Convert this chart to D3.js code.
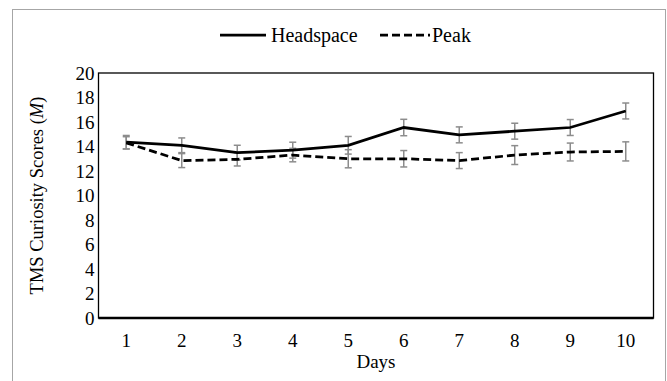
<!DOCTYPE html>
<html>
<head>
<meta charset="utf-8">
<script src="https://cdn.jsdelivr.net/npm/d3@7"></script>
<style>
  body { margin: 0; background: #fff; }
  svg text { font-family: "Liberation Serif", "Times New Roman", Times, serif; fill: #000; }
</style>
</head>
<body>
<svg id="chart"></svg>
<script>
// data
const days = ['1', '2', '3', '4', '5', '6', '7', '8', '9', '10'];
const headspace = [14.35, 14.1, 13.5, 13.7, 14.1, 15.55, 14.95, 15.25, 15.55, 16.9];
const headspaceErr = [0.55, 0.6, 0.6, 0.65, 0.72, 0.67, 0.65, 0.65, 0.65, 0.65];
const peak = [14.3, 12.85, 12.95, 13.3, 13.0, 13.0, 12.85, 13.3, 13.55, 13.6];
const peakErr = [0.5, 0.57, 0.54, 0.55, 0.74, 0.67, 0.65, 0.77, 0.73, 0.78];
const yTicks = [0, 2, 4, 6, 8, 10, 12, 14, 16, 18, 20];

const dim = { width: 667, height: 381 };
const plot = { left: 98.5, top: 73, right: 653.5, bottom: 318 };
const serif = '"Liberation Serif", "Times New Roman", Times, serif';

const svg = d3.select('#chart')
  .attr('width', dim.width)
  .attr('height', dim.height);

// outer chart frame (runs off the bottom of the picture)
svg.append('rect')
  .attr('x', 12.5).attr('y', 9.5)
  .attr('width', 653).attr('height', 400)
  .attr('fill', 'none')
  .attr('stroke', '#a6a6a6')
  .attr('stroke-width', 1);

const x = d3.scaleBand()
  .domain(days)
  .range([plot.left, plot.right]);

const y = d3.scaleLinear()
  .domain([0, 20])
  .range([plot.bottom, plot.top]);

const cx = d => x(d) + x.bandwidth() / 2;

// plot area border
svg.append('rect')
  .attr('x', plot.left).attr('y', plot.top)
  .attr('width', plot.right - plot.left)
  .attr('height', plot.bottom - plot.top)
  .attr('fill', 'none')
  .attr('stroke', '#000')
  .attr('stroke-width', 1.3);

// bottom axis line is heavier
svg.append('line')
  .attr('x1', plot.left).attr('x2', plot.right)
  .attr('y1', plot.bottom).attr('y2', plot.bottom)
  .attr('stroke', '#000')
  .attr('stroke-width', 2.4);

// y tick labels
const yAxis = d3.axisLeft(y).tickValues(yTicks).tickSize(0).tickPadding(4);
const gy = svg.append('g')
  .attr('transform', `translate(${plot.left},0)`)
  .call(yAxis)
  .attr('font-family', serif)
  .attr('font-size', 19);
gy.select('.domain').remove();
gy.selectAll('text').attr('fill', '#000');

// x tick labels
const xAxis = d3.axisBottom(x).tickSize(0).tickPadding(16);
const gx = svg.append('g')
  .attr('transform', `translate(0,${plot.bottom})`)
  .call(xAxis)
  .attr('font-family', serif)
  .attr('font-size', 19);
gx.select('.domain').remove();
gx.selectAll('text').attr('fill', '#000');

// axis titles
svg.append('text')
  .attr('x', (plot.left + plot.right) / 2)
  .attr('y', 368)
  .attr('text-anchor', 'middle')
  .style('font-size', '19px')
  .text('Days');

const yTitle = svg.append('text')
  .attr('transform', `translate(43,${(plot.top + plot.bottom) / 2}) rotate(-90)`)
  .attr('text-anchor', 'middle')
  .style('font-size', '18.5px');
yTitle.append('tspan').text('TMS Curiosity Scores (');
yTitle.append('tspan').style('font-style', 'italic').text('M');
yTitle.append('tspan').text(')');

// error bars
function drawErrors(values, errs) {
  const g = svg.append('g')
    .attr('stroke', '#8c8c8c')
    .attr('stroke-width', 1.5);
  days.forEach((d, i) => {
    const xc = cx(d);
    const lo = y(values[i] - errs[i]);
    const hi = y(values[i] + errs[i]);
    g.append('line').attr('x1', xc).attr('x2', xc).attr('y1', lo).attr('y2', hi);
    g.append('line').attr('x1', xc - 3.5).attr('x2', xc + 3.5).attr('y1', lo).attr('y2', lo);
    g.append('line').attr('x1', xc - 3.5).attr('x2', xc + 3.5).attr('y1', hi).attr('y2', hi);
  });
}
drawErrors(headspace, headspaceErr);
drawErrors(peak, peakErr);

const line = d3.line()
  .x((v, i) => cx(days[i]))
  .y(v => y(v));

svg.append('path')
  .datum(peak)
  .attr('d', line)
  .attr('fill', 'none')
  .attr('stroke', '#000')
  .attr('stroke-width', 2.75)
  .attr('stroke-dasharray', '8,4');

svg.append('path')
  .datum(headspace)
  .attr('d', line)
  .attr('fill', 'none')
  .attr('stroke', '#000')
  .attr('stroke-width', 2.75);

// legend
const legendY = 35;
const legend = svg.append('g');
legend.append('line')
  .attr('x1', 220).attr('x2', 266)
  .attr('y1', legendY).attr('y2', legendY)
  .attr('stroke', '#000').attr('stroke-width', 2.75);
legend.append('text')
  .attr('x', 271).attr('y', legendY + 7)
  .style('font-size', '20px')
  .text('Headspace');
legend.append('line')
  .attr('x1', 380).attr('x2', 430)
  .attr('y1', legendY).attr('y2', legendY)
  .attr('stroke', '#000').attr('stroke-width', 2.75)
  .attr('stroke-dasharray', '8,4');
legend.append('text')
  .attr('x', 432).attr('y', legendY + 7)
  .style('font-size', '20px')
  .text('Peak');
</script>
</body>
</html>
